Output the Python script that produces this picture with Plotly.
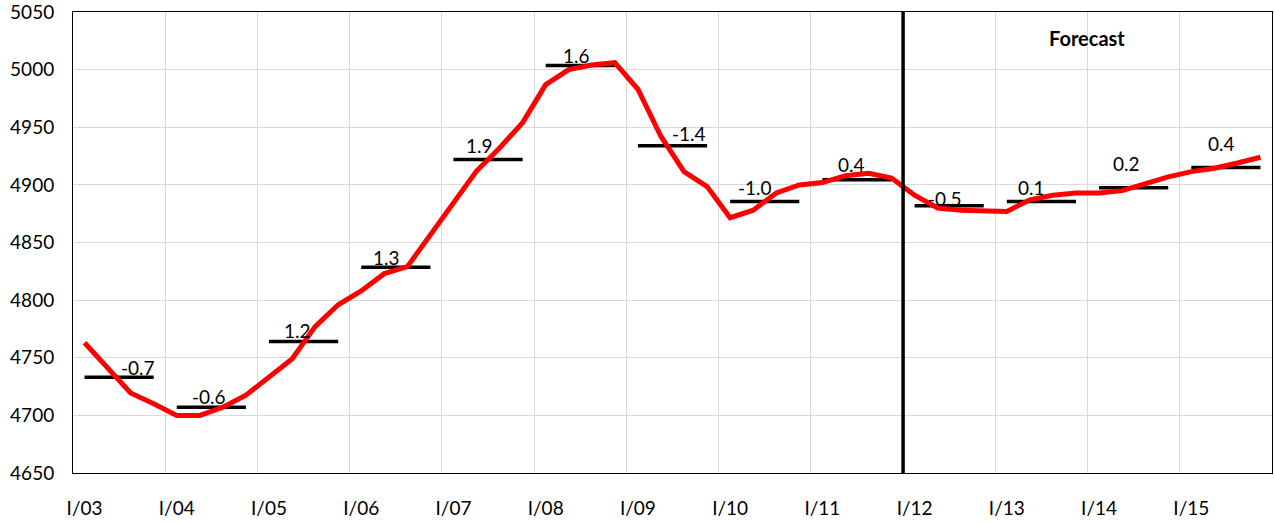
import plotly.graph_objects as go

# --------------------- data ---------------------
tick_labels = ["I/03", "I/04", "I/05", "I/06", "I/07", "I/08", "I/09",
               "I/10", "I/11", "I/12", "I/13", "I/14", "I/15"]
y_ticks = [4650, 4700, 4750, 4800, 4850, 4900, 4950, 5000, 5050]

# quarterly level, I/03 .. IV/15
quarterly = [4763, 4741, 4719.5, 4710,
             4700, 4700, 4707, 4717.5,
             4733, 4749, 4777, 4796,
             4808, 4823, 4829, 4857,
             4885, 4912, 4932, 4954,
             4987, 5000, 5004, 5006,
             4983, 4942, 4911.5, 4898.5,
             4871.5, 4878, 4893, 4900,
             4902, 4908, 4910, 4906,
             4891, 4880, 4878, 4877,
             4877, 4887, 4891, 4893,
             4893, 4895, 4901, 4907,
             4911.5, 4914.5, 4919, 4924]

# annual averages (black bars) and their growth labels
annual_avg = [4733, 4707, 4764, 4828.5, 4922, 5003.5, 4934,
              4885.5, 4904.5, 4882, 4885.5, 4897.5, 4915]
growth = ["-0.7", "-0.6", "1.2", "1.3", "1.9", "1.6", "-1.4",
          "-1.0", "0.4", "-0.5", "0.1", "0.2", "0.4"]

# label nudges (px) to mimic hand-placed data labels
label_dx = [19, -2, -6, -9, -9, -4, 16, -10, -5, -4, -10, -7, -4]
label_dy = [10, 11, 11, 10, 14, 10, 12, 14, 15, 7, 14, 24, 24]

FONT = "Lato"
n_q = len(quarterly)
n_y = len(tick_labels)

fig = go.Figure()

# annual average bars: from Q1 to Q4 of each year
bx, by = [], []
for k, v in enumerate(annual_avg):
    bx += [4 * k, 4 * k + 3, None]
    by += [v, v, None]
fig.add_trace(go.Scatter(x=bx, y=by, mode='lines',
                         line=dict(color='black', width=3.5),
                         hoverinfo='skip', showlegend=False))

# quarterly line
fig.add_trace(go.Scatter(x=list(range(n_q)), y=quarterly, mode='lines',
                         line=dict(color='#ff0000', width=5),
                         showlegend=False))

# growth labels
for k, t in enumerate(growth):
    fig.add_annotation(x=4 * k + 1.5, y=annual_avg[k], text=t,
                       showarrow=False, yanchor='middle',
                       xshift=label_dx[k], yshift=label_dy[k],
                       font=dict(family=FONT, size=19, color='black'))

# start of forecast
fig.add_shape(type='line', xref='x', yref='paper',
              x0=4 * 9 - 0.5, x1=4 * 9 - 0.5, y0=0, y1=1,
              line=dict(color='black', width=3.5))
fig.add_annotation(xref='paper', yref='paper', x=0.8453, y=0.9435,
                   xanchor='center', yanchor='middle',
                   text="<b>Forecast</b>", showarrow=False,
                   font=dict(family=FONT, size=20, color='black'))

boundaries = [4 * k - 0.5 for k in range(n_y + 1)]

fig.update_layout(
    width=1274, height=523,
    margin=dict(l=73, r=2, t=12, b=50),
    plot_bgcolor='white', paper_bgcolor='white',
    font=dict(family=FONT, size=19, color='black'),
    showlegend=False,
    xaxis=dict(range=[-0.5, n_q - 0.5], automargin=False,
               tickmode='array', tickvals=[4 * k for k in range(n_y)],
               ticktext=tick_labels, showgrid=False, zeroline=False,
               ticks='', ticklabelstandoff=18,
               showline=True, linecolor='black', linewidth=1, mirror=True,
               minor=dict(tickmode='array', tickvals=boundaries,
                          showgrid=True, gridcolor='#d9d9d9', gridwidth=1,
                          ticks='')),
    yaxis=dict(range=[4650, 5050.02], automargin=False,
               tickmode='array', tickvals=y_ticks,
               ticklabeloverflow='allow',
               showgrid=True, gridcolor='#d9d9d9', gridwidth=1,
               zeroline=False, ticks='', ticklabelstandoff=14,
               showline=True, linecolor='black', linewidth=1, mirror=True),
)

# remove the default page margin so the figure sits at the window origin
fig.write_html("out.html", config={'displayModeBar': False},
               post_script="document.body.style.margin='0';"
                           "document.body.style.overflow='hidden';")
